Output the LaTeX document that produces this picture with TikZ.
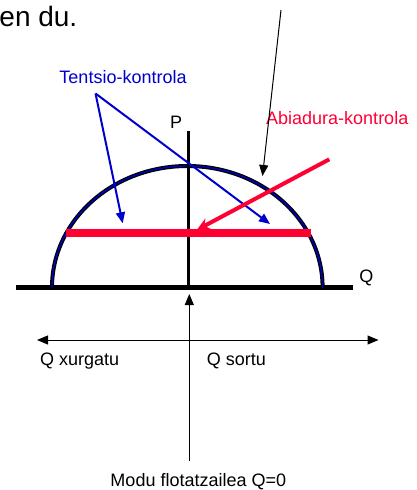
\documentclass[tikz,border=0pt]{standalone}
\usepackage{fontspec}
\setmainfont{Liberation Sans}
\usetikzlibrary{arrows.meta}
\definecolor{myred}{RGB}{255,0,51}
\definecolor{myblue}{RGB}{0,0,204}
\begin{document}
\begin{tikzpicture}[x=1pt,y=-1pt,
  lbl/.style={inner sep=0pt, font=\fontsize{18}{20}\selectfont},
  thinarrow/.style={draw=black, line width=1pt, -{Triangle[length=11pt,width=9pt]}},
  bluearrow/.style={draw=myblue, line width=2pt, -{Triangle[length=11pt,width=9pt]}},
  redarrow/.style={draw=myred, line width=4pt, -{Stealth[length=13pt,width=12pt]}}]
\useasboundingbox (0,0) rectangle (417,490);
\clip (0,0) rectangle (417,490);
% coordinates
\coordinate (qL) at (16,287.5);
\coordinate (qR) at (353,287.5);
\coordinate (pT) at (188.5,131);
\coordinate (pB) at (188.5,287.5);
\coordinate (eL) at (52,287.5);
\coordinate (barL) at (66,233.3);
\coordinate (barR) at (310.7,233.3);
\coordinate (redS) at (329.3,159.3);
\coordinate (redT) at (196.7,230);
\coordinate (blS) at (95.5,93.5);
\coordinate (blT1) at (122.7,223.3);
\coordinate (blT2) at (270,224);
\coordinate (topS) at (281,10);
\coordinate (topT) at (262.5,176);
\coordinate (hL) at (37,340);
\coordinate (hR) at (378.5,340);
\coordinate (vB) at (189.3,461);
\coordinate (vT) at (189.3,294);
% labels
\node[lbl, anchor=base east, font=\fontsize{28}{30}\selectfont] (endu) at (77.5,26) {en du.};
\node[lbl, anchor=base, text=myblue] (tentsio) at (123,83.3) {Tentsio-kontrola};
\node[lbl, anchor=base west, text=myred] (abiadura) at (266,124) {Abiadura-kontrola};
\node[lbl, anchor=base] (P) at (176.2,128.3) {P};
\node[lbl, anchor=base] (Q) at (366.3,282) {Q};
\node[lbl, anchor=base west] (qx) at (40,365) {Q xurgatu};
\node[lbl, anchor=base west] (qs) at (206.7,365) {Q sortu};
\node[lbl, anchor=base] (modu) at (198.3,486) {Modu flotatzailea Q=0};
% axes and curve
\draw[line width=5pt] (qL) -- (qR);
\draw[line width=4pt] (eL) arc[start angle=180,end angle=360,x radius=135.3,y radius=121.5];
\draw[myblue, line width=1.3pt] (eL) arc[start angle=180,end angle=360,x radius=135.3,y radius=121.5];
\draw[line width=3.5pt] (pT) -- (pB);
\draw[myred, line width=8pt] (barL) -- (barR);
% arrows
\draw[bluearrow] (blS) -- (blT1);
\draw[bluearrow] (blS) -- (blT2);
\draw[redarrow] (redS) -- (redT);
\draw[thinarrow] (topS) -- (topT);
\draw[thinarrow, {Triangle[length=11pt,width=9pt]}-{Triangle[length=11pt,width=9pt]}] (hL) -- (hR);
\draw[thinarrow] (vB) -- (vT);
\end{tikzpicture}
\end{document}
